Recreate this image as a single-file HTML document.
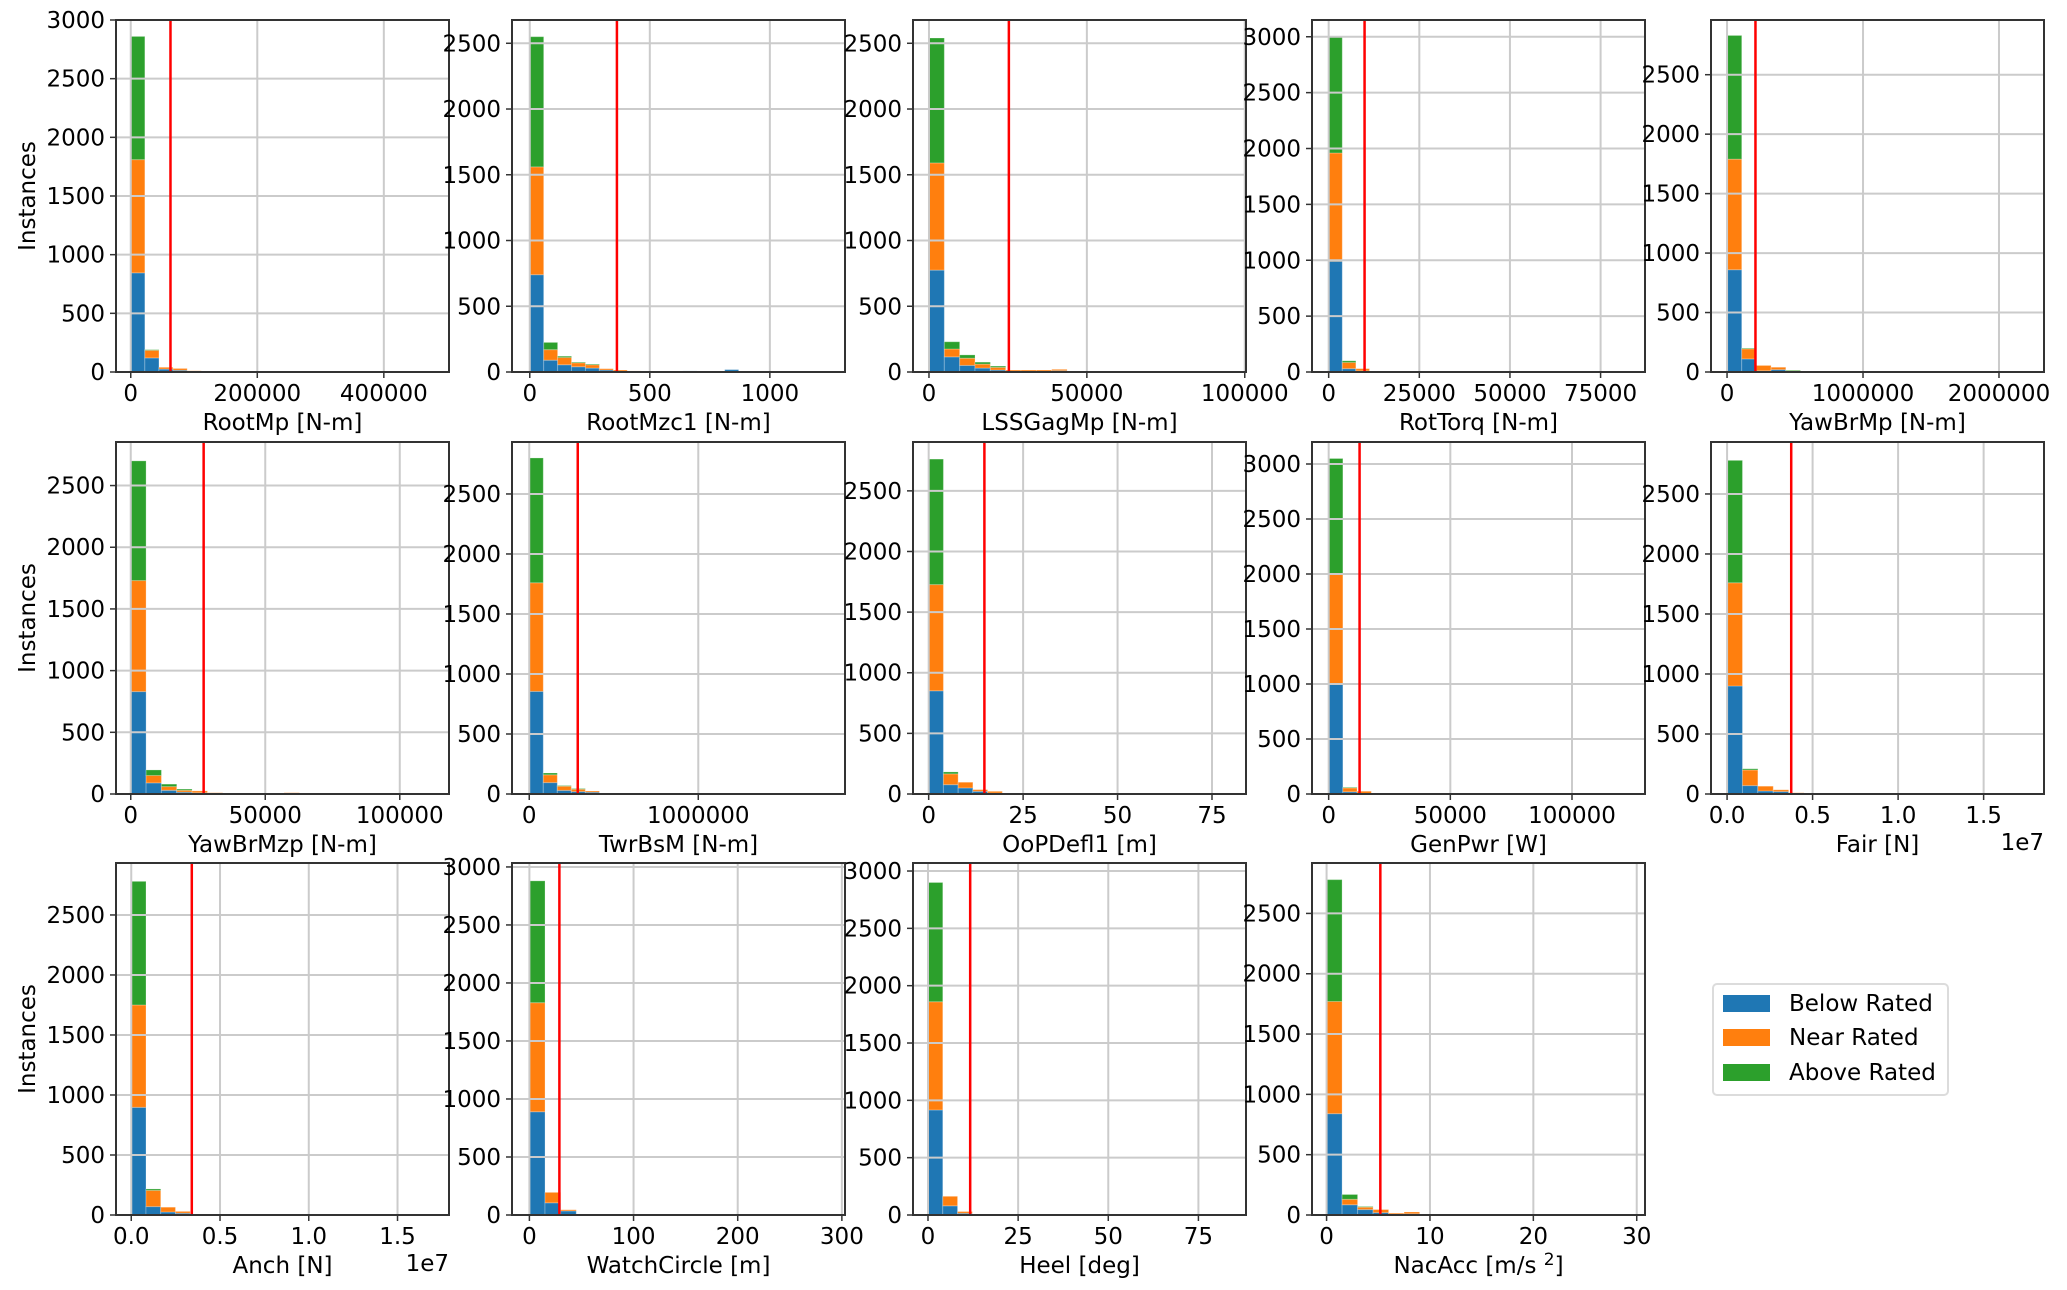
<!DOCTYPE html>
<html><head><meta charset="utf-8"><style>
html,body{margin:0;padding:0;background:#fff;}
svg{display:block;font-family:"DejaVu Sans","Liberation Sans",sans-serif;}
</style></head><body>
<svg id="fig" width="2067" height="1290" viewBox="0 0 2067 1290" xmlns="http://www.w3.org/2000/svg">
<g>
<rect x="1713" y="984" width="235" height="111" rx="4" fill="#fff" stroke="#dcdcdc" stroke-width="2"/>
<g><rect x="1723" y="995" width="47" height="17" fill="#1f77b4"/><text x="1789" y="1011" font-size="23">Below Rated</text></g>
<g><rect x="1723" y="1029" width="47" height="17" fill="#ff7f0e"/><text x="1789" y="1045" font-size="23">Near Rated</text></g>
<g><rect x="1723" y="1064" width="47" height="17" fill="#2ca02c"/><text x="1789" y="1080" font-size="23">Above Rated</text></g>
</g>
</svg>
<script>
const labels = ["RootMp [N-m]","RootMzc1 [N-m]","LSSGagMp [N-m]","RotTorq [N-m]","YawBrMp [N-m]","YawBrMzp [N-m]","TwrBsM [N-m]","OoPDefl1 [m]","GenPwr [W]","Fair [N]","Anch [N]","WatchCircle [m]","Heel [deg]","NacAcc [m/s"];
const xMins = [-23300,-74,-5060,-4600,-118000,-5480,-102000,-4.15,-6850,-940000,-860000,-16.7,-4.16,-1.41];
const xMaxs = [503000,1313,100400,87250,2331000,118300,1868000,84,130000,18530000,17900000,303,88.2,30.8];
const xTicks = [[0,200000,400000],[0,500,1000],[0,50000,100000],[0,25000,50000,75000],[0,1000000,2000000],[0,50000,100000],[0,1000000],[0,25,50,75],[0,50000,100000],[0,5e6,1e7,1.5e7],[0,5e6,1e7,1.5e7],[0,100,200,300],[0,25,50,75],[0,10,20,30]];
const xTickLabels = [["0","200000","400000"],["0","500","1000"],["0","50000","100000"],["0","25000","50000","75000"],["0","1000000","2000000"],["0","50000","100000"],["0","1000000"],["0","25","50","75"],["0","50000","100000"],["0.0","0.5","1.0","1.5"],["0.0","0.5","1.0","1.5"],["0","100","200","300"],["0","25","50","75"],["0","10","20","30"]];
const yMaxs = [3000,2677,2677,3150,2960,2853,2933,2903,3200,2933,2933,3034,3070,2918];
const binWidths = [22300,58,4860,3750,108000,5700,83000,3.9,5840,900000,830000,15,4.1,1.5];
const blueCounts = [[845,120,25,15,3],[740,90,55,40,30,15,5,3,0,0,0,8,0,0,18],[775,115,50,30,15,5,5,5,10,5,3],[990,30,10,3],[860,110,10,20,5],[830,90,30,15,10],[855,95,30,20,15,3,3],[851,77,50,22,8],[1000,20,5,0],[900,70,25,20,5],[897,70,25,15,3],[890,105,35,0],[916,80,15,3,1],[840,85,45,20,5,10]];
const orangeCounts = [[965,65,15,15,7],[820,80,55,30,25,10,10,5,5,3],[815,60,55,30,20,10,10,10,10,0,3],[970,55,20,5],[930,85,45,20,5],[900,60,30,15,15,10,5,5,5,5,10],[905,65,35,20,10,3,3],[876,89,47,14,14,8,5],[1000,35,20,5],[860,130,40,15,5,5,5],[853,135,40,15,5,5,5],[940,90,10,8],[944,83,15,5,2],[930,45,20,25,10,15]];
const greenCounts = [[1050,5],[990,55,10,5,5],[950,55,25,15,10],[1040,15],[1040,5,0,0,5],[970,45,20,10],[1040,15,5,5],[1035,16],[1050,5],[1020,10],[1030,12],[1050,0],[1040,0],[1010,40,5]];
const redLines = [62800,363,25300,9900,209000,27100,287000,14.75,12700,3750000,3410000,28.8,11.7,5.2];
const offsetTexts = ["","","","","","","","","","1e7","1e7","","",""];

const NS = "http://www.w3.org/2000/svg";
const svg = document.getElementById('fig');
const colLeft = [116,512,913,1312,1711], rowTop = [20,442,863], W = 333, H = 352;
function mk(tag, attrs, parent){const e=document.createElementNS(NS,tag);for(const k in attrs)e.setAttribute(k,attrs[k]);parent.appendChild(e);return e;}
function slug(s){return s.toLowerCase().replace(/\[.*$/,'').trim().replace(/[^a-z0-9]+/g,'-');}

for(let i=0;i<labels.length;i++){
  const L=colLeft[i%5], T=rowTop[Math.floor(i/5)], B=T+H, R=L+W;
  const xs=v=>L+(v-xMins[i])/(xMaxs[i]-xMins[i])*W;
  const ys=v=>B-v/yMaxs[i]*H;
  const g=mk('g',{},svg);
  
  
  const clipId='c'+i;
  const cp=mk('clipPath',{id:clipId},g); mk('rect',{x:L,y:T,width:W,height:H},cp);
  // bars
  const bars=mk('g',{'clip-path':'url(#'+clipId+')'},g);
  
  
  const nb=Math.max(blueCounts[i].length,orangeCounts[i].length,greenCounts[i].length);
  for(let b=0;b<nb;b++){
    const x0=xs(b*binWidths[i]), x1=xs((b+1)*binWidths[i]);
    let base=0;
    const series=[[blueCounts[i][b]||0,'#1f77b4','blue'],[orangeCounts[i][b]||0,'#ff7f0e','orange'],[greenCounts[i][b]||0,'#2ca02c','green']];
    for(const [v,c,nm] of series){
      if(v>0){
        const r=mk('rect',{x:x0,y:ys(base+v),width:x1-x0,height:ys(base)-ys(base+v),fill:c,stroke:'rgba(255,255,255,0.25)','stroke-width':1},bars);
        
        
      }
      base+=v;
    }
  }
  // grid
  for(let y=0;y<=yMaxs[i];y+=500){
    const gl=mk('line',{x1:L,x2:R,y1:ys(y),y2:ys(y),stroke:'#cbcbcb','stroke-width':2},g);
    
    
    mk('line',{x1:L-6,x2:L,y1:ys(y),y2:ys(y),stroke:'#333','stroke-width':1.5},g);
    const t=mk('text',{x:L-11,y:ys(y)+8,'font-size':23,'text-anchor':'end'},g);
    t.textContent=String(y);
    
    
  }
  xTicks[i].forEach((v,k)=>{
    const gl=mk('line',{x1:xs(v),x2:xs(v),y1:T,y2:B,stroke:'#cbcbcb','stroke-width':2},g);
    
    
    mk('line',{x1:xs(v),x2:xs(v),y1:B,y2:B+6,stroke:'#333','stroke-width':1.5},g);
    const t=mk('text',{x:xs(v),y:B+29,'font-size':23,'text-anchor':'middle'},g);
    t.textContent=xTickLabels[i][k];
    
    
  });
  // red line
  const rl=mk('line',{x1:xs(redLines[i]),x2:xs(redLines[i]),y1:T,y2:B,stroke:'#ff0000','stroke-width':2.5},g);
  
  
  // frame
  const fr=mk('rect',{x:L,y:T,width:W,height:H,fill:'none',stroke:'#333','stroke-width':2},g);
  
  
  // x label
  const xl=mk('text',{x:L+W/2,y:B+58,'font-size':23,'text-anchor':'middle'},g);
  
  
  if(i===13){
    xl.appendChild(document.createTextNode('NacAcc [m/s '));
    const sp=mk('tspan',{dy:-8,'font-size':17},xl); sp.textContent='2';
    const sp2=mk('tspan',{dy:8},xl); sp2.textContent=']';
  } else xl.textContent=labels[i];
  if(offsetTexts[i]){
    const o=mk('text',{x:R,y:B+56,'font-size':23,'text-anchor':'end'},g);
    o.textContent=offsetTexts[i];
    
    
  }
  if(i%5===0){
    const yl=mk('text',{x:0,y:0,'font-size':23,'text-anchor':'middle',transform:'translate(35,'+(T+H/2)+') rotate(-90)'},g);
    yl.textContent='Instances';
    
    
  }
}
</script>
</body></html>
